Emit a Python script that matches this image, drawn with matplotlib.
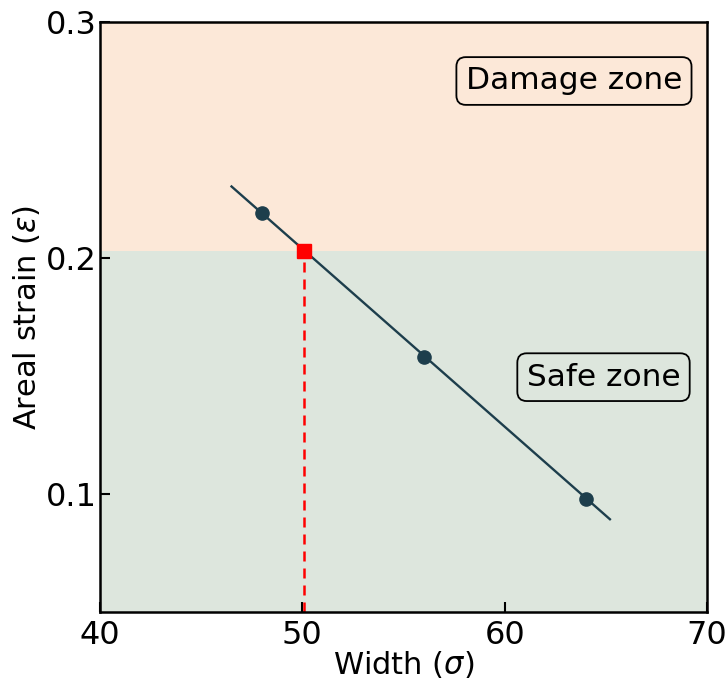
import matplotlib
matplotlib.use("Agg")
import matplotlib.pyplot as plt

# measured widths and strains
width = [48, 56, 64]
strain = [0.219, 0.158, 0.098]

# linear fit drawn across the data
fit_x = [46.5, 65.2]
fit_y = [0.2303, 0.0893]

# critical point
crit_x = 50.1
crit_y = 0.203

xlim = (40, 70)
ylim = (0.05, 0.3)
xticks = [40, 50, 60, 70]
yticks = [0.1, 0.2, 0.3]

plt.rcParams["font.family"] = "DejaVu Sans"

fig = plt.figure(figsize=(7.28, 6.79), dpi=100)
ax = fig.add_axes([0.1374, 0.0987, 0.8338, 0.8689])

ax.axhspan(crit_y, ylim[1], color="#fce8d8", zorder=0, lw=0)
ax.axhspan(ylim[0], crit_y, color="#dde6dd", zorder=0, lw=0)

ax.plot(fit_x, fit_y, color="#1d3e4c", lw=1.7, zorder=2)
ax.plot(width, strain, "o", color="#1d3e4c", ms=9.5, zorder=3)
ax.plot([crit_x, crit_x], [ylim[0], crit_y], "--", color="red", lw=1.8,
        dashes=(4, 2.8), zorder=2)
ax.plot([crit_x], [crit_y], "s", color="red", ms=10, zorder=4)

box = dict(boxstyle="round,pad=0.3", fc="none", ec="black", lw=1.3)
ax.text(0.959, 0.9, "Damage zone", transform=ax.transAxes, ha="right", va="center",
        fontsize=22.5, bbox=box)
ax.text(0.956, 0.398, "Safe zone", transform=ax.transAxes, ha="right",
        va="center", fontsize=22.5, bbox=box)

ax.set_xlim(*xlim)
ax.set_ylim(*ylim)
ax.set_xticks(xticks)
ax.set_yticks(yticks)
ax.tick_params(direction="in", length=7, width=1.5, labelsize=23, pad=6)
ax.tick_params(axis="y", pad=2)
for s in ax.spines.values():
    s.set_linewidth(1.8)

ax.set_xlabel(r"Width ($\sigma$)", fontsize=22, labelpad=-2)
ax.set_ylabel(r"Areal strain ($\varepsilon$)", fontsize=22, labelpad=3)

fig.savefig("out.png", dpi=100)
